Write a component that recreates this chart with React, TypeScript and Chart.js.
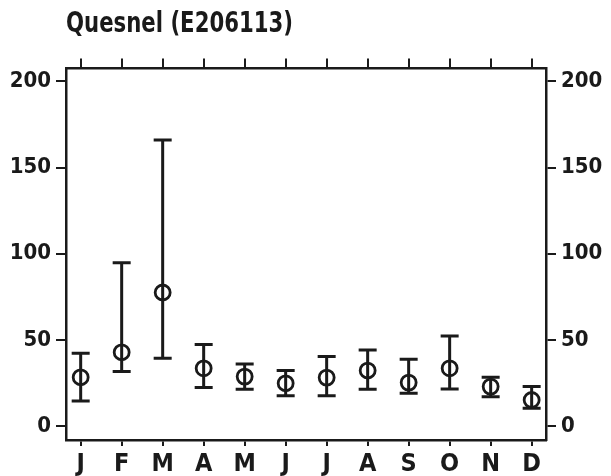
import React, { useEffect, useRef } from "react";
import { Chart, registerables } from "chart.js";

Chart.register(...registerables);

const titleText = "Quesnel (E206113)";
const monthLabels = ["J", "F", "M", "A", "M", "J", "J", "A", "S", "O", "N", "D"];
const meanValues = [28.3, 42.8, 77.5, 33.5, 28.7, 24.8, 28.1, 32.2, 25.2, 33.5, 22.9, 15.1];
const lowValues = [14.5, 31.6, 39.3, 22.3, 21.3, 17.6, 17.6, 21.3, 19.0, 21.5, 17.0, 10.3];
const highValues = [42.2, 94.8, 166.0, 47.3, 36.0, 32.2, 40.3, 44.2, 38.8, 52.3, 28.3, 22.9];
const yTickValues = [0, 50, 100, 150, 200];

const INK = "#1a1a1a";
const FONT_FAMILY = "'Liberation Sans Narrow', 'DejaVu Sans Condensed', 'Roboto Condensed', 'Liberation Sans', sans-serif";

const X_MIN = -0.358;
const X_MAX = 11.35;
const Y_MIN = -8.1;
const Y_MAX = 207.5;

const errorBarPlugin = {
  id: "errorBars",
  beforeDatasetsDraw(chart: any) {
    const { ctx, scales } = chart;
    const xs = scales.x;
    const ys = scales.y;
    ctx.save();
    ctx.strokeStyle = INK;
    ctx.lineWidth = 3;
    ctx.lineCap = "butt";
    const capHalf = 9;
    for (let i = 0; i < meanValues.length; i++) {
      const px = xs.getPixelForValue(i);
      const pLo = ys.getPixelForValue(lowValues[i]);
      const pHi = ys.getPixelForValue(highValues[i]);
      ctx.beginPath();
      ctx.moveTo(px, pLo);
      ctx.lineTo(px, pHi);
      ctx.moveTo(px - capHalf, pLo);
      ctx.lineTo(px + capHalf, pLo);
      ctx.moveTo(px - capHalf, pHi);
      ctx.lineTo(px + capHalf, pHi);
      ctx.stroke();
    }
    ctx.restore();
  },
};

const TITLE_TARGET_WIDTH = 227;

const titlePlugin = {
  id: "leftTitle",
  afterDraw(chart: any) {
    const { ctx, chartArea } = chart;
    ctx.save();
    ctx.fillStyle = INK;
    ctx.font = `bold 28px ${FONT_FAMILY}`;
    ctx.textAlign = "left";
    ctx.textBaseline = "alphabetic";
    const w = ctx.measureText(titleText).width;
    const sx = w > 0 ? Math.min(1, TITLE_TARGET_WIDTH / w) : 1;
    ctx.translate(chartArea.left, 32);
    ctx.scale(sx, 1);
    ctx.fillText(titleText, 0, 0);
    ctx.restore();
  },
};

function setXTicks(axis: any) {
  axis.ticks = monthLabels.map((_, i) => ({ value: i }));
}
function setYTicks(axis: any) {
  axis.ticks = yTickValues.map((v) => ({ value: v }));
}

export default function App() {
  const canvasRef = useRef<HTMLCanvasElement | null>(null);

  useEffect(() => {
    document.body.style.margin = "0";
    const canvas = canvasRef.current;
    if (!canvas) return;
    const points = meanValues.map((v, i) => ({ x: i, y: v }));
    const gridCommon = {
      drawOnChartArea: false,
      drawTicks: true,
      color: INK,
      lineWidth: 2,
    };
    const borderCommon = { display: true, color: INK, width: 2.5 };
    const chart = new Chart(canvas, {
      type: "scatter",
      data: {
        datasets: [
          {
            data: points,
            xAxisID: "x",
            yAxisID: "y",
            showLine: false,
            pointStyle: "circle",
            pointRadius: 7.5,
            pointHoverRadius: 7.5,
            pointBorderWidth: 2.8,
            pointBackgroundColor: "rgba(0,0,0,0)",
            pointBorderColor: INK,
          },
        ],
      },
      options: {
        responsive: false,
        animation: false,
        events: [],
        layout: { padding: { top: 48, left: 0, right: 0, bottom: 0 } },
        plugins: {
          legend: { display: false },
          tooltip: { enabled: false },
          title: { display: false },
        },
        scales: {
          x: {
            type: "linear",
            position: "bottom",
            min: X_MIN,
            max: X_MAX,
            afterBuildTicks: setXTicks,
            afterFit: (axis: any) => {
              axis.height = 36;
            },
            grid: { ...gridCommon, tickLength: 6 },
            border: borderCommon,
            ticks: {
              autoSkip: false,
              maxRotation: 0,
              padding: 3,
              color: INK,
              font: { family: FONT_FAMILY, size: 25, weight: "bold" },
              callback: (value: any) => monthLabels[Math.round(Number(value))] ?? "",
            },
          },
          x2: {
            type: "linear",
            position: "top",
            min: X_MIN,
            max: X_MAX,
            afterBuildTicks: setXTicks,
            afterFit: (axis: any) => {
              axis.height = 20.5;
            },
            grid: { ...gridCommon, tickLength: 10 },
            border: borderCommon,
            ticks: {
              autoSkip: false,
              maxRotation: 0,
              padding: 0,
              font: { family: FONT_FAMILY, size: 10 },
              callback: () => "",
            },
          },
          y: {
            type: "linear",
            position: "left",
            min: Y_MIN,
            max: Y_MAX,
            afterBuildTicks: setYTicks,
            afterFit: (axis: any) => {
              axis.width = 66;
            },
            grid: { ...gridCommon, tickLength: 10 },
            border: borderCommon,
            ticks: {
              padding: 5,
              color: INK,
              font: { family: FONT_FAMILY, size: 22, weight: "bold" },
              callback: (value: any) => String(value),
            },
          },
          y2: {
            type: "linear",
            position: "right",
            min: Y_MIN,
            max: Y_MAX,
            afterBuildTicks: setYTicks,
            afterFit: (axis: any) => {
              axis.width = 65;
            },
            grid: { ...gridCommon, tickLength: 10 },
            border: borderCommon,
            ticks: {
              padding: 5,
              color: INK,
              font: { family: FONT_FAMILY, size: 22, weight: "bold" },
              callback: (value: any) => String(value),
            },
          },
        },
      },
      plugins: [errorBarPlugin, titlePlugin],
    } as any);
    return () => {
      chart.destroy();
    };
  }, []);

  return (
    <canvas
      ref={canvasRef}
      width={611}
      height={476}
      style={{ display: "block", width: "611px", height: "476px" }}
    />
  );
}
